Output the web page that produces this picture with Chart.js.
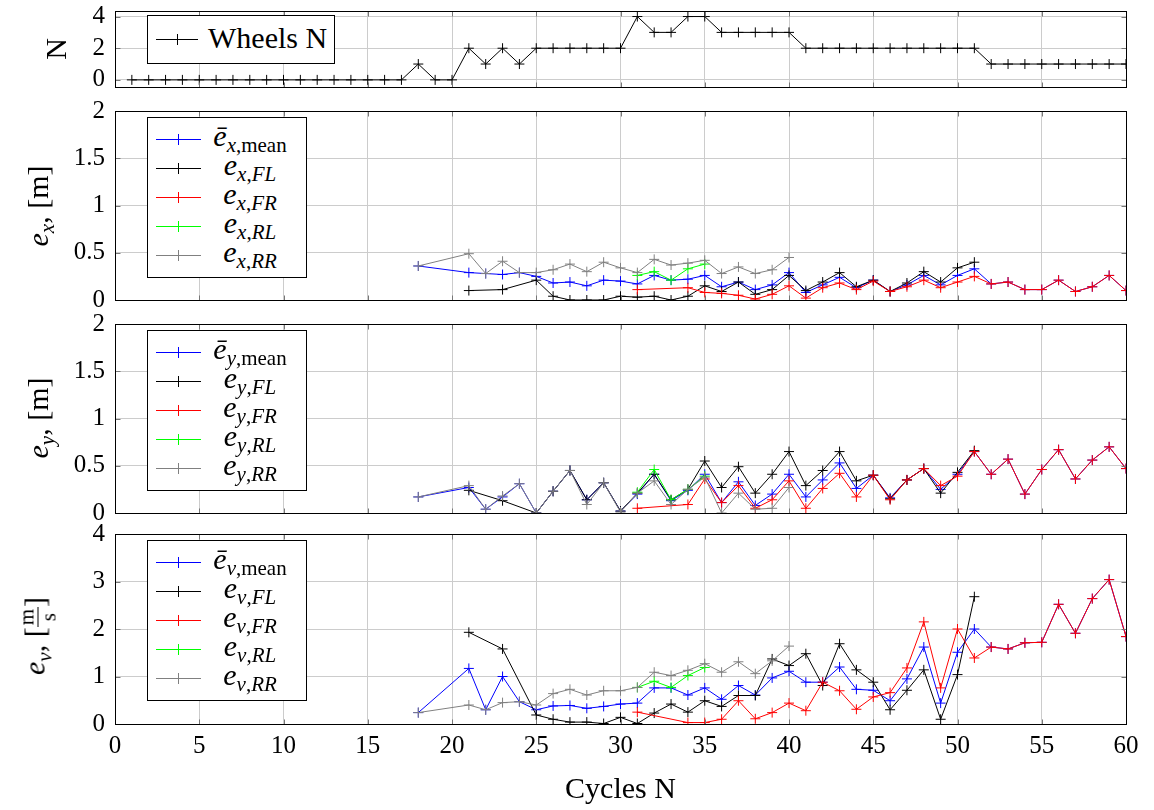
<!DOCTYPE html>
<html>
<head>
<meta charset="utf-8">
<title>Wheel contact and estimation errors per cycle</title>
<script src="https://cdn.jsdelivr.net/npm/chart.js@4.4.1/dist/chart.umd.min.js"></script>
<style>
  body { margin: 0; background: #fff; }
  #page { position: relative; width: 1154px; height: 810px; overflow: hidden; font-family: "Liberation Serif", serif; color: #000; }
  #page canvas { position: absolute; left: 0; top: 0; }
  .legend { position: absolute; left: 147px; width: 160px; height: 161px; box-sizing: border-box; border: 1px solid #000; background: #fff; padding-top: 7px; z-index: 2; }
  .row { position: relative; height: 29px; }
  .key { position: absolute; left: 8px; top: 14px; width: 45px; height: 1px; }
  .key i { position: absolute; left: 22px; top: -5px; width: 1px; height: 11px; background: inherit; }
  .txt { position: absolute; left: 56px; width: 92px; top: -4px; line-height: 29px; text-align: center; font-size: 30px; white-space: nowrap; }
  sub { font-size: 0.7em; vertical-align: -0.3em; line-height: 0; }
  .ytitle { position: absolute; font-size: 30px; white-space: nowrap; line-height: 1; transform: translate(-50%, -50%) rotate(-90deg); z-index: 2; }
  .frac { display: inline-block; vertical-align: middle; font-size: 0.7em; text-align: center; line-height: 1; }
  .frac span { display: block; padding: 0 2px; }
  .frac span:first-child { border-bottom: 1px solid #000; }
</style>
</head>
<body>
<div id="page">
  <canvas id="wheelsChart" width="1154" height="810"></canvas>
  <canvas id="exChart" width="1154" height="810"></canvas>
  <canvas id="eyChart" width="1154" height="810"></canvas>
  <canvas id="evChart" width="1154" height="810"></canvas>

  <div class="ytitle" style="left:56px; top:49px">N</div>
  <div class="ytitle" style="left:38px; top:206px"><i>e</i><sub><i>x</i></sub>, [m]</div>
  <div class="ytitle" style="left:38px; top:418px"><i>e</i><sub><i>y</i></sub>, [m]</div>
  <div class="ytitle" style="left:38px; top:636px"><i>e</i><sub><i>v</i></sub>, [<span class="frac"><span>m</span><span>s</span></span>]</div>

  <div class="legend" style="top:15px; width:188px; height:49px; padding-top:9px">
    <div class="row">
      <span class="key" style="background:#000; width:42px"><i style="left:21px"></i></span>
      <span class="txt" style="left:60px; width:auto; text-align:left; top:-2px">Wheels N</span>
    </div>
  </div>

  <div class="legend" style="top:117px">
    <div class="row"><span class="key" style="background:#0000ff"><i></i></span><span class="txt"><i>ē</i><sub><i>x</i>,mean</sub></span></div>
    <div class="row"><span class="key" style="background:#000"><i></i></span><span class="txt"><i>e</i><sub><i>x</i>,<i>FL</i></sub></span></div>
    <div class="row"><span class="key" style="background:#ff0000"><i></i></span><span class="txt"><i>e</i><sub><i>x</i>,<i>FR</i></sub></span></div>
    <div class="row"><span class="key" style="background:#00ff00"><i></i></span><span class="txt"><i>e</i><sub><i>x</i>,<i>RL</i></sub></span></div>
    <div class="row"><span class="key" style="background:#808080"><i></i></span><span class="txt"><i>e</i><sub><i>x</i>,<i>RR</i></sub></span></div>
  </div>

  <div class="legend" style="top:330px">
    <div class="row"><span class="key" style="background:#0000ff"><i></i></span><span class="txt"><i>ē</i><sub><i>y</i>,mean</sub></span></div>
    <div class="row"><span class="key" style="background:#000"><i></i></span><span class="txt"><i>e</i><sub><i>y</i>,<i>FL</i></sub></span></div>
    <div class="row"><span class="key" style="background:#ff0000"><i></i></span><span class="txt"><i>e</i><sub><i>y</i>,<i>FR</i></sub></span></div>
    <div class="row"><span class="key" style="background:#00ff00"><i></i></span><span class="txt"><i>e</i><sub><i>y</i>,<i>RL</i></sub></span></div>
    <div class="row"><span class="key" style="background:#808080"><i></i></span><span class="txt"><i>e</i><sub><i>y</i>,<i>RR</i></sub></span></div>
  </div>

  <div class="legend" style="top:540px">
    <div class="row"><span class="key" style="background:#0000ff"><i></i></span><span class="txt"><i>ē</i><sub><i>v</i>,mean</sub></span></div>
    <div class="row"><span class="key" style="background:#000"><i></i></span><span class="txt"><i>e</i><sub><i>v</i>,<i>FL</i></sub></span></div>
    <div class="row"><span class="key" style="background:#ff0000"><i></i></span><span class="txt"><i>e</i><sub><i>v</i>,<i>FR</i></sub></span></div>
    <div class="row"><span class="key" style="background:#00ff00"><i></i></span><span class="txt"><i>e</i><sub><i>v</i>,<i>RL</i></sub></span></div>
    <div class="row"><span class="key" style="background:#808080"><i></i></span><span class="txt"><i>e</i><sub><i>v</i>,<i>RR</i></sub></span></div>
  </div>
</div>

<script>
const _ = null;

// wheels in contact, cycles 1..60
const wheelCycles = [
  1, 2, 3, 4, 5, 6, 7, 8, 9, 10, 11, 12, 13, 14, 15, 16, 17, 18, 19, 20,
  21, 22, 23, 24, 25, 26, 27, 28, 29, 30, 31, 32, 33, 34, 35, 36, 37, 38, 39, 40,
  41, 42, 43, 44, 45, 46, 47, 48, 49, 50, 51, 52, 53, 54, 55, 56, 57, 58, 59, 60
];
const wheels = [
  0, 0, 0, 0, 0, 0, 0, 0, 0, 0, 0, 0, 0, 0, 0, 0, 0, 1, 0, 0,
  2, 1, 2, 1, 2, 2, 2, 2, 2, 2, 4, 3, 3, 4, 4, 3, 3, 3, 3, 3,
  2, 2, 2, 2, 2, 2, 2, 2, 2, 2, 2, 1, 1, 1, 1, 1, 1, 1, 1, 1
];

// error series, cycles 18..60
const errCycles = [
  18, 19, 20,
  21, 22, 23, 24, 25, 26, 27, 28, 29, 30,
  31, 32, 33, 34, 35, 36, 37, 38, 39, 40,
  41, 42, 43, 44, 45, 46, 47, 48, 49, 50,
  51, 52, 53, 54, 55, 56, 57, 58, 59, 60
];

// longitudinal error e_x [m]
const exMean = [0.36, _, _,
  0.29, 0.28, 0.27, 0.29, 0.25, 0.18, 0.19, 0.15, 0.21, 0.20,
  0.17, 0.26, 0.21, 0.22, 0.26, 0.14, 0.19, 0.11, 0.16, 0.29,
  0.08, 0.16, 0.24, 0.13, 0.21, 0.09, 0.16, 0.26, 0.16, 0.26,
  0.33, 0.17, 0.19, 0.11, 0.11, 0.21, 0.09, 0.14, 0.26, 0.10];
const exFL = [_, _, _,
  0.10, _, 0.11, _, 0.21, 0.04, 0.00, 0.00, 0.00, 0.04,
  0.03, 0.04, 0.00, 0.04, 0.15, 0.09, 0.19, 0.06, 0.11, 0.26,
  0.10, 0.19, 0.29, 0.14, 0.21, 0.09, 0.18, 0.30, 0.19, 0.34,
  0.40, _, _, _, _, _, _, _, _, _];
const exFR = [_, _, _,
  _, _, _, _, _, _, _, _, _, _,
  0.11, _, _, 0.13, 0.08, 0.07, 0.05, 0.01, 0.06, 0.15,
  0.02, 0.13, 0.18, 0.11, 0.20, 0.09, 0.14, 0.21, 0.13, 0.19,
  0.25, 0.17, 0.19, 0.11, 0.11, 0.21, 0.09, 0.14, 0.26, 0.10];
const exRL = [_, _, _,
  _, _, _, _, _, _, _, _, _, _,
  0.26, 0.30, 0.21, 0.33, 0.38, _, _, _, _, _,
  _, _, _, _, _, _, _, _, _, _,
  _, _, _, _, _, _, _, _, _, _];
const exRR = [0.36, _, _,
  0.49, 0.28, 0.41, 0.29, 0.29, 0.32, 0.38, 0.30, 0.40, 0.34,
  0.29, 0.43, 0.37, 0.39, 0.42, 0.28, 0.35, 0.28, 0.32, 0.45,
  _, _, _, _, _, _, _, _, _, _,
  _, _, _, _, _, _, _, _, _, _];

// lateral error e_y [m]
const eyMean = [0.17, _, _,
  0.27, 0.04, 0.17, 0.31, 0.00, 0.23, 0.45, 0.14, 0.32, 0.02,
  0.20, 0.41, 0.13, 0.24, 0.41, 0.11, 0.33, 0.08, 0.20, 0.41,
  0.17, 0.35, 0.53, 0.26, 0.40, 0.16, 0.35, 0.47, 0.25, 0.41,
  0.65, 0.41, 0.57, 0.20, 0.46, 0.67, 0.36, 0.56, 0.70, 0.47];
const eyFL = [_, _, _,
  0.24, _, 0.13, _, 0.00, 0.23, 0.45, 0.14, 0.32, 0.02,
  0.21, 0.41, 0.14, 0.25, 0.55, 0.27, 0.49, 0.21, 0.41, 0.65,
  0.29, 0.45, 0.65, 0.34, 0.40, 0.15, 0.35, 0.47, 0.21, 0.43,
  0.66, _, _, _, _, _, _, _, _, _];
const eyFR = [_, _, _,
  _, _, _, _, _, _, _, _, _, _,
  0.05, _, _, 0.09, 0.36, 0.11, 0.29, 0.05, 0.14, 0.34,
  0.05, 0.26, 0.42, 0.17, 0.40, 0.14, 0.35, 0.47, 0.29, 0.39,
  0.65, 0.41, 0.57, 0.20, 0.46, 0.67, 0.36, 0.56, 0.70, 0.47];
const eyRL = [_, _, _,
  _, _, _, _, _, _, _, _, _, _,
  0.22, 0.46, 0.14, 0.25, 0.39, _, _, _, _, _,
  _, _, _, _, _, _, _, _, _, _,
  _, _, _, _, _, _, _, _, _, _];
const eyRR = [0.17, _, _,
  0.29, 0.04, 0.18, 0.31, 0.00, 0.23, 0.45, 0.09, 0.32, 0.01,
  0.21, 0.34, 0.09, 0.25, 0.38, 0.00, 0.21, 0.04, 0.05, 0.27,
  _, _, _, _, _, _, _, _, _, _,
  _, _, _, _, _, _, _, _, _, _];

// velocity error e_v [m/s]
const evMean = [0.24, _, _,
  1.17, 0.30, 1.00, 0.47, 0.30, 0.38, 0.39, 0.33, 0.37, 0.42,
  0.44, 0.76, 0.76, 0.61, 0.76, 0.52, 0.81, 0.61, 0.97, 1.11,
  0.88, 0.88, 1.20, 0.73, 0.71, 0.49, 0.95, 1.62, 0.44, 1.51,
  2.00, 1.62, 1.58, 1.71, 1.72, 2.52, 1.91, 2.64, 3.04, 1.84];
const evFL = [_, _, _,
  1.93, _, 1.58, _, 0.19, 0.10, 0.04, 0.04, 0.01, 0.14,
  0.01, 0.23, 0.42, 0.25, 0.49, 0.37, 0.60, 0.60, 1.37, 1.23,
  1.48, 0.81, 1.69, 1.14, 0.88, 0.30, 0.71, 1.14, 0.10, 1.04,
  2.68, _, _, _, _, _, _, _, _, _];
const evFR = [_, _, _,
  _, _, _, _, _, _, _, _, _, _,
  0.25, _, _, 0.03, 0.03, 0.10, 0.49, 0.11, 0.24, 0.44,
  0.28, 0.88, 0.70, 0.31, 0.57, 0.66, 1.18, 2.15, 0.76, 2.00,
  1.39, 1.62, 1.58, 1.71, 1.72, 2.52, 1.91, 2.64, 3.04, 1.84];
const evRL = [_, _, _,
  _, _, _, _, _, _, _, _, _, _,
  0.77, 0.90, 0.77, 1.02, 1.19, _, _, _, _, _,
  _, _, _, _, _, _, _, _, _, _,
  _, _, _, _, _, _, _, _, _, _];
const evRR = [0.24, _, _,
  0.40, 0.30, 0.45, 0.47, 0.40, 0.64, 0.73, 0.61, 0.70, 0.70,
  0.77, 1.09, 1.02, 1.13, 1.27, 1.09, 1.31, 1.06, 1.33, 1.64,
  _, _, _, _, _, _, _, _, _, _,
  _, _, _, _, _, _, _, _, _, _];

// tick values
const xTicks = [0, 5, 10, 15, 20, 25, 30, 35, 40, 45, 50, 55, 60];
const wheelTicks = [0, 2, 4];
const posTicks = [0, 0.5, 1, 1.5, 2];
const velTicks = [0, 1, 2, 3, 4];

Chart.defaults.font.family = "'Liberation Serif', serif";
Chart.defaults.color = '#000';

// closed box around the plot area plus short inward tick marks on every side
const frame = {
  id: 'frame',
  afterDraw(chart) {
    const { ctx, chartArea: a, scales } = chart;
    const L = Math.round(a.left) + 0.5, R = Math.round(a.right) + 0.5;
    const T = Math.round(a.top) + 0.5, B = Math.round(a.bottom) + 0.5;
    ctx.save();
    ctx.lineWidth = 1;
    ctx.strokeStyle = '#777';
    ctx.beginPath();
    scales.x.ticks.forEach(t => {
      const px = Math.round(scales.x.getPixelForValue(t.value)) + 0.5;
      ctx.moveTo(px, T); ctx.lineTo(px, T + 5);
      ctx.moveTo(px, B); ctx.lineTo(px, B - 5);
    });
    scales.y.ticks.forEach(t => {
      const py = Math.round(scales.y.getPixelForValue(t.value)) + 0.5;
      ctx.moveTo(L, py); ctx.lineTo(L + 5, py);
      ctx.moveTo(R, py); ctx.lineTo(R - 5, py);
    });
    ctx.stroke();
    ctx.strokeStyle = '#000';
    ctx.strokeRect(L, T, R - L, B - T);
    ctx.restore();
  }
};

function series(xs, ys, color, order) {
  return {
    data: xs.map((x, i) => ({ x: x, y: ys[i] })),
    borderColor: color,
    backgroundColor: color,
    borderWidth: 1,
    pointStyle: 'cross',
    pointRadius: 5,
    pointHoverRadius: 5,
    pointBorderWidth: 1,
    pointBorderColor: color,
    spanGaps: true,
    tension: 0,
    order: order
  };
}

function wheelSets(mean, fl, fr, rl, rr) {
  return [
    series(errCycles, mean, '#0000ff', 5),
    series(errCycles, fl, '#000000', 4),
    series(errCycles, fr, '#ff0000', 3),
    series(errCycles, rl, '#00ff00', 2),
    series(errCycles, rr, '#808080', 1)
  ];
}

function makePanel(id, padTop, padBottom, yMin, yMax, yTicks, sets, isLast) {
  return new Chart(document.getElementById(id), {
    type: 'line',
    data: { datasets: sets },
    options: {
      responsive: false,
      animation: false,
      devicePixelRatio: 1,
      layout: { padding: { left: 0, right: 28, top: padTop, bottom: padBottom } },
      plugins: { legend: { display: false }, tooltip: { enabled: false } },
      scales: {
        x: {
          type: 'linear',
          min: 0,
          max: 60,
          afterBuildTicks: s => { s.ticks = xTicks.map(v => ({ value: v })); },
          afterFit: s => { s.height = isLast ? 84 : 0; s.paddingLeft = 0; s.paddingRight = 0; },
          grid: { color: '#cccccc', drawTicks: false },
          border: { display: false },
          ticks: { display: isLast, font: { size: 25 }, padding: 7, maxRotation: 0, autoSkip: false, callback: v => String(v) },
          title: { display: isLast, text: 'Cycles N', font: { size: 30 }, padding: 0 }
        },
        y: {
          type: 'linear',
          min: yMin,
          max: yMax,
          afterBuildTicks: s => { s.ticks = yTicks.map(v => ({ value: v })); },
          afterFit: s => { s.width = 115; s.paddingTop = 0; s.paddingBottom = 0; },
          grid: { color: '#cccccc', drawTicks: false },
          border: { display: false },
          ticks: { font: { size: 25 }, padding: 10, callback: v => String(v) }
        }
      }
    },
    plugins: [frame]
  });
}

makePanel('wheelsChart', 11, 723, -0.45, 4.35, wheelTicks,
  [series(wheelCycles, wheels, '#000000', 1)], false);
makePanel('exChart', 111, 510, 0, 2, posTicks, wheelSets(exMean, exFL, exFR, exRL, exRR), false);
makePanel('eyChart', 324, 297, 0, 2, posTicks, wheelSets(eyMean, eyFL, eyFR, eyRL, eyRR), false);
makePanel('evChart', 534, 2, 0, 4, velTicks, wheelSets(evMean, evFL, evFR, evRL, evRR), true);
</script>
</body>
</html>
